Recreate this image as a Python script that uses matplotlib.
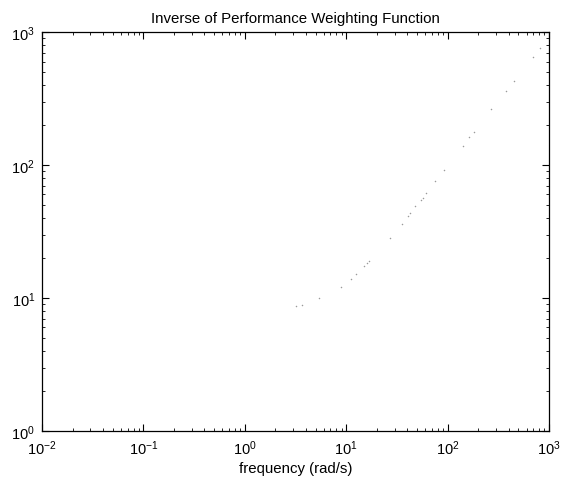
import matplotlib
matplotlib.use("Agg")
import matplotlib.pyplot as plt
from matplotlib.ticker import LogLocator, NullFormatter

plt.rcParams['font.family'] = ['Liberation Sans Narrow', 'Liberation Sans', 'DejaVu Sans']
plt.rcParams['mathtext.fontset'] = 'custom'
plt.rcParams['mathtext.rm'] = 'Liberation Sans Narrow'
plt.rcParams['axes.unicode_minus'] = False

# Points (frequency in rad/s, magnitude)
freq = [3.2, 3.66, 5.4, 8.9, 11.1, 12.4, 15.1, 15.9, 16.8, 27.0, 35.5, 41.0,
        42.6, 48.1, 54.3, 57.2, 60.8, 75.1, 91.6, 141, 164, 182, 266, 377,
        455, 695, 815]
mag = [8.7, 8.8, 10.0, 12.2, 13.9, 15.1, 17.4, 18.3, 19.0, 28.1, 36.2, 41.6,
       43.6, 49.4, 54.3, 56.8, 61.6, 76.2, 91.7, 139.7, 163, 176, 264, 360,
       426, 649, 762]

fig = plt.figure(figsize=(5.61, 4.81), dpi=100)
ax = fig.add_axes([0.0749, 0.1019, 0.9037, 0.8295])

ax.loglog(freq, mag, linestyle='none', marker='.', markersize=2.2,
          color='#9a9a9a', markeredgewidth=0)

ax.set_xlim(1e-2, 1e3)
ax.set_ylim(1e0, 1e3)

for loc_axis in (ax.xaxis, ax.yaxis):
    loc_axis.set_major_locator(LogLocator(base=10, numticks=10))
    loc_axis.set_minor_locator(LogLocator(base=10, subs=range(2, 10), numticks=20))
    loc_axis.set_minor_formatter(NullFormatter())

ax.tick_params(which='both', direction='in', top=True, right=True,
               labelsize=10.5, color='black')
ax.tick_params(which='major', length=5, width=0.8, pad=5)
ax.tick_params(which='minor', length=2.5, width=0.6)
for sp in ax.spines.values():
    sp.set_linewidth(0.9)

ax.set_title('Inverse of Performance Weighting Function', fontsize=10.8, pad=7)
ax.set_xlabel('frequency (rad/s)', fontsize=10.8, labelpad=3)

fig.savefig('out.png', dpi=100)
